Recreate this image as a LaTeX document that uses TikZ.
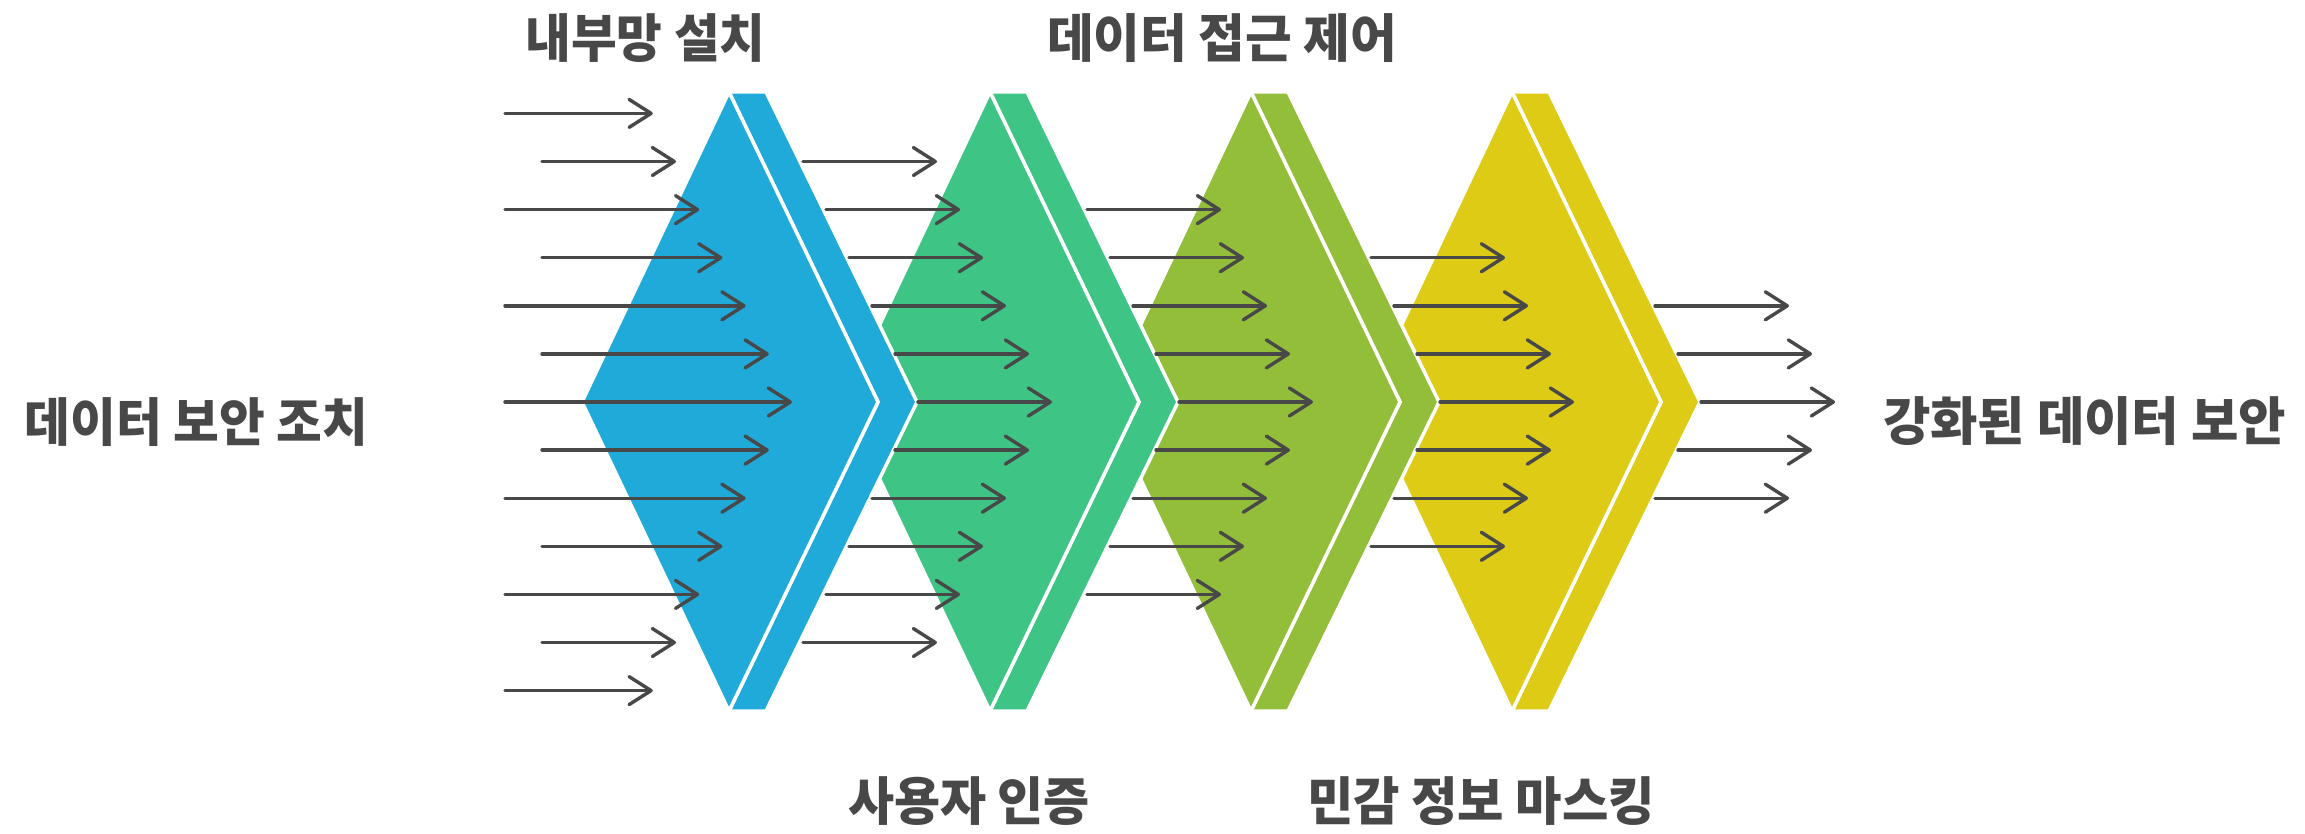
\documentclass[tikz,border=0pt]{standalone}
\usepackage{fontspec}
\newfontfamily\kr{Noto Sans CJK KR}
\usetikzlibrary{arrows.meta}
\definecolor{cblue}{HTML}{20AAD9}
\definecolor{cteal}{HTML}{3EC585}
\definecolor{colive}{HTML}{93BE3A}
\definecolor{cyellow}{HTML}{DDCB16}
\definecolor{ink}{HTML}{484848}
\newcommand{\fitw}[2]{\resizebox{#1}{\height}{#2}}
\begin{document}
\begin{tikzpicture}[x=0.5pt,y=-0.5pt,
  arr/.style={draw=ink, line width=1.7pt, line cap=round,
    -{Straight Barb[length=11pt,width=14pt,round]}},
  lbl/.style={text=ink, font=\kr\bfseries\fontsize{26pt}{26pt}\selectfont, inner sep=0pt},
  bandshape/.style={draw=white, line width=1.75pt, line join=miter},
  frontshape/.style={draw=white, line width=1.75pt, line join=miter}]
\useasboundingbox (0,0) rectangle (2305,834);
\fill[white] (0,0) rectangle (2305,834);
% stages, drawn right to left so each band lies over the next stage
\foreach \sx/\cc in {1512/cyellow, 1251/colive, 990/cteal, 729/cblue} {
  \path[fill=\cc, bandshape] (\sx,92) -- (\sx+37,92) -- (\sx+188,402)
    -- (\sx+37,711) -- (\sx,711) -- (\sx+149,402) -- cycle;
  \path[fill=\cc, frontshape] (\sx,92) -- (\sx+149,402) -- (\sx,711)
    -- (\sx-147,402) -- cycle;
}
% incoming arrows
\foreach \r in {0,...,12} {
  \pgfmathtruncatemacro\dd{min(\r,12-\r)}
  \pgfmathsetmacro\yy{402+48.1*(\r-6)}
  \pgfmathsetmacro\xs{mod(\r,2)==0 ? 505 : 542}
  \pgfmathsetmacro\xe{792-23.2*(6-\dd)}
  \coordinate (gas\r) at (\xs,\yy);
  \coordinate (gae\r) at (\xe,\yy);
  \draw[arr] (gas\r) -- (gae\r);
}
% arrows between and after the stages
\foreach \k in {0,...,3} {
  \foreach \r in {0,...,12} {
    \pgfmathtruncatemacro\dd{min(\r,12-\r)}
    \ifnum\dd>\k
      \pgfmathsetmacro\yy{402+48.1*(\r-6)}
      \pgfmathsetmacro\xs{803+23*(\dd-1)+261*\k}
      \coordinate (g\k s\r) at (\xs,\yy);
      \coordinate (g\k e\r) at (\xs+134,\yy);
      \draw[arr] (g\k s\r) -- (g\k e\r);
    \fi
  }
}
% labels
\node[lbl] (l1) at (645.5,38.5) {\fitw{120pt}{내부망 설치}};
\node[lbl] (l2) at (1222,38.5) {\fitw{175pt}{데이터 접근 제어}};
\node[lbl] (l3) at (969,801) {\fitw{121pt}{사용자 인증}};
\node[lbl] (l4) at (1481,801) {\fitw{174pt}{민감 정보 마스킹}};
\node[lbl] (lin) at (196.5,422) {\fitw{171.5pt}{데이터 보안 조치}};
\node[lbl] (lout) at (2084.5,421) {\fitw{201.5pt}{강화된 데이터 보안}};
\end{tikzpicture}
\end{document}
